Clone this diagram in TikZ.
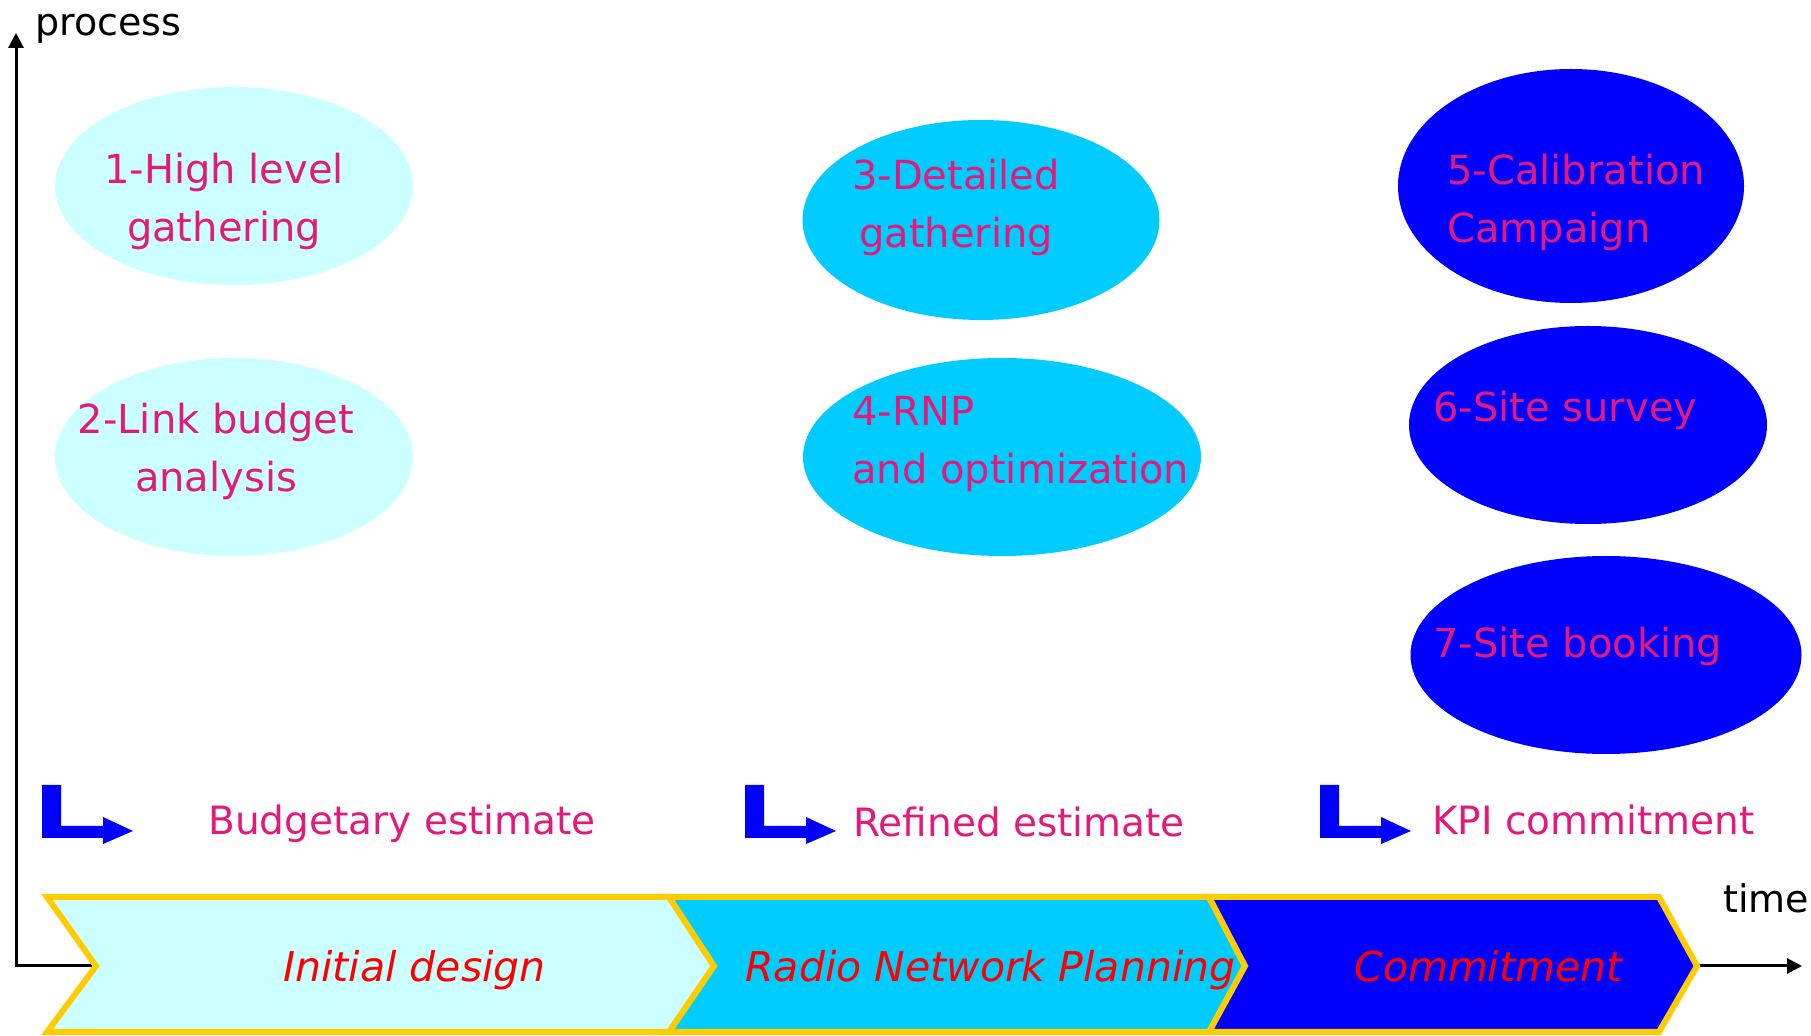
\documentclass[tikz,border=0pt]{standalone}
\usepackage{fontspec}
\setmainfont{DejaVu Sans}[ItalicFont={DejaVu Sans Oblique}]
\usepackage{xcolor}
\usepackage{tikz}
\usetikzlibrary{shapes.geometric, arrows.meta, positioning}
\definecolor{palecyan}{HTML}{CCFFFF}
\definecolor{midcyan}{HTML}{00CCFF}
\definecolor{deepblue}{HTML}{0000FF}
\definecolor{gold}{HTML}{FFCC00}
\definecolor{rosetext}{RGB}{228,26,122}
\tikzset{
  task/.style={ellipse, draw=none, inner sep=0pt, minimum width=179pt, minimum height=99pt},
  tasktext/.style={inner sep=0pt, text=rosetext, font=\fontsize{20}{29}\selectfont},
  milestone/.style={inner sep=0pt, anchor=base west, text=rosetext, font=\fontsize{19.5}{24}\selectfont},
  phase/.style={draw=gold, line width=3pt, miter limit=10},
  phasetext/.style={inner sep=0pt, anchor=base west, text=red, font=\fontsize{20.5}{25}\selectfont\itshape},
  axislabel/.style={inner sep=0pt, anchor=base west, font=\fontsize{19}{23}\selectfont},
  axis/.style={{Triangle[length=7.5pt,width=7.5pt]}-{Triangle[length=7.5pt,width=7.5pt]}, line width=1.5pt},
  bentarrow/.pic={\fill[deepblue] (0,0) -- (19,0) -- (19,41) -- (61,41) -- (61,32) -- (91,46) -- (61,59) -- (61,53) -- (0,53) -- cycle;},
}

\begin{document}
\begin{tikzpicture}[x=0.5pt, y=-0.5pt]
\useasboundingbox (0,0) rectangle (1811,1036);
\coordinate (ytip) at (16,33);
\coordinate (xtip) at (1802,966);
\draw[axis] (ytip) |- (xtip);
\node[axislabel] (proc) at (35,36) {process};
\node[axislabel] (time) at (1723,913) {time};

\draw[phase, fill=palecyan] (47,897) -- (669,897) -- (714,966) -- (669,1032) -- (47,1032) -- (96,966) -- cycle;
\draw[phase, fill=midcyan] (669,897) -- (1209,897) -- (1245,966) -- (1209,1032) -- (669,1032) -- (714,966) -- cycle;
\draw[phase, fill=deepblue] (1209,897) -- (1659,897) -- (1697,966) -- (1659,1032) -- (1209,1032) -- (1245,966) -- cycle;
\node[phasetext] (initial) at (283,982) {Initial design};
\node[phasetext] (rnpphase) at (745,982) {Radio Network Planning};
\node[phasetext] (commit) at (1354,982) {Commitment};

\node[task, fill=palecyan] (gather) at (234,186) {};
\node[task, fill=palecyan] (linkbudget) at (234,457) {};
\node[task, fill=midcyan, minimum width=178.5pt, minimum height=100pt] (detail) at (981,220) {};
\node[task, fill=midcyan, minimum width=199pt] (rnp) at (1002,457) {};
\node[task, fill=deepblue, minimum width=173pt, minimum height=117pt] (calib) at (1571,186) {};
\node[task, fill=deepblue] (survey) at (1588,425) {};
\node[task, fill=deepblue, minimum width=195.5pt] (booking) at (1606,655) {};

\node[tasktext, anchor=base, align=center] (gathertext) at (224,242) {1-High level\\gathering};
\node[tasktext, anchor=base, align=center] (linktext) at (216,492) {2-Link budget\\analysis};
\node[tasktext, anchor=base, align=center] (detailtext) at (956,248) {3-Detailed\\gathering};
\node[tasktext, anchor=base west, align=left] (rnptext) at (852,484) {4-RNP\\and optimization};
\node[tasktext, anchor=base west, align=left] (calibtext) at (1447,243) {5-Calibration\\Campaign};
\node[tasktext, anchor=base west] (surveytext) at (1433,422) {6-Site survey};
\node[tasktext, anchor=base west] (bookingtext) at (1433,658) {7-Site booking};

\pic at (42,785) {bentarrow};
\pic at (745,785) {bentarrow};
\pic at (1320,785) {bentarrow};
\node[milestone] (budget) at (208,835) {Budgetary estimate};
\node[milestone] (refined) at (853,837) {Refined estimate};
\node[milestone] (kpi) at (1432,835) {KPI commitment};
\end{tikzpicture}
\end{document}
